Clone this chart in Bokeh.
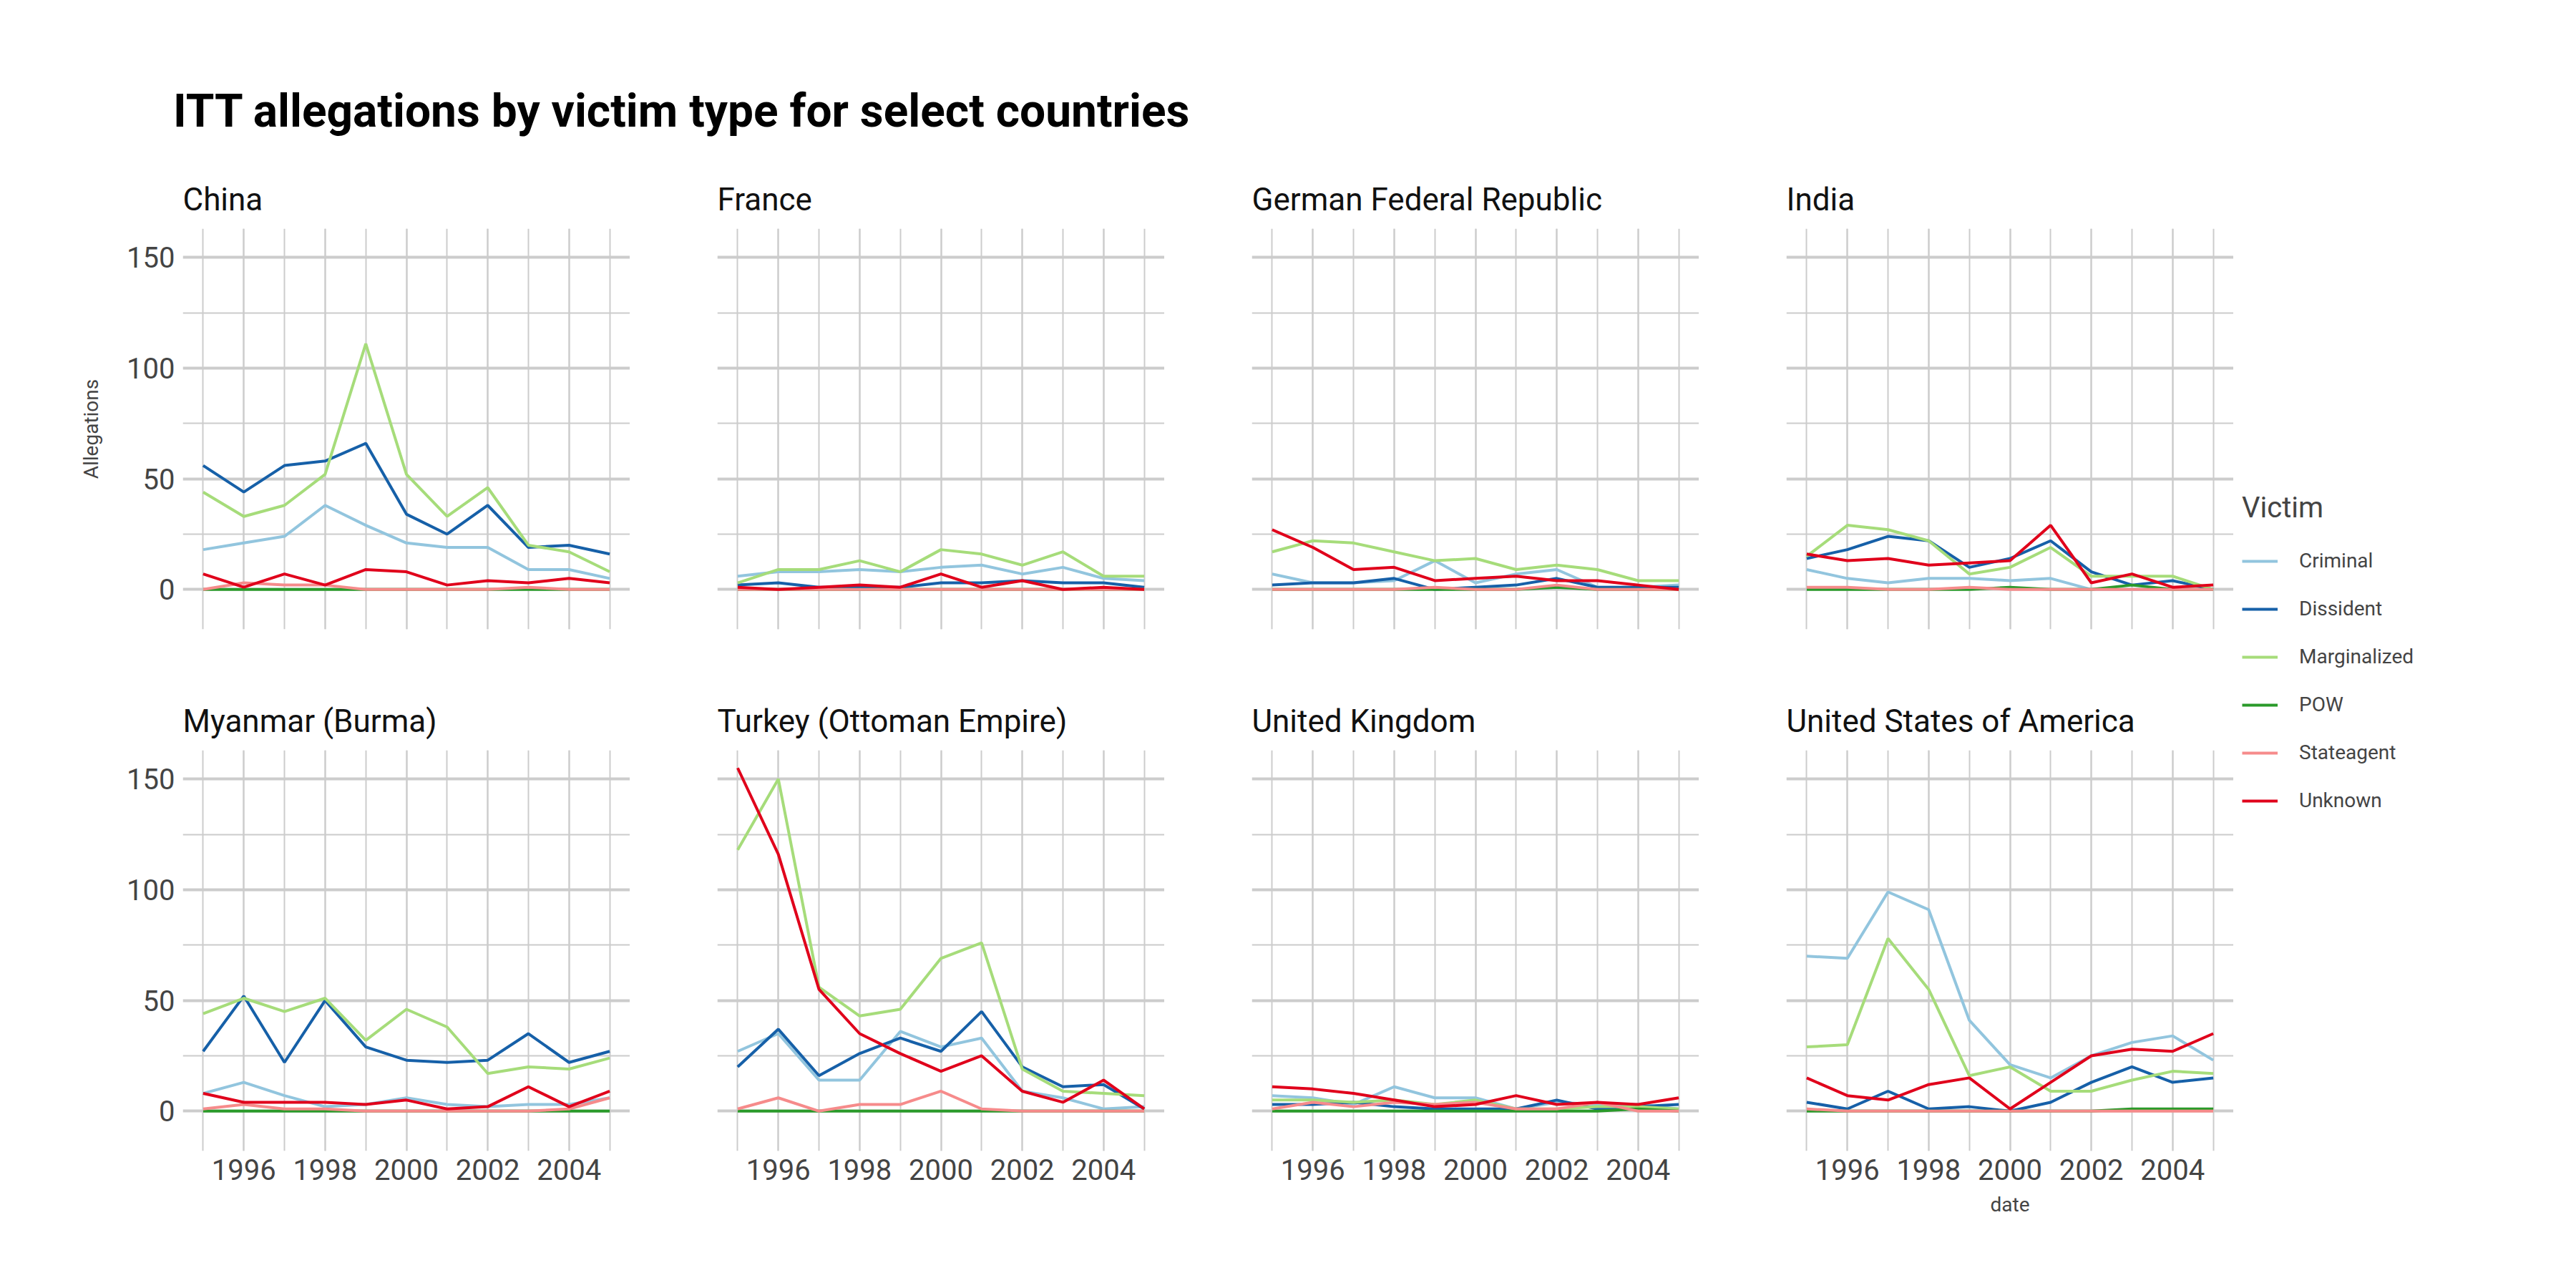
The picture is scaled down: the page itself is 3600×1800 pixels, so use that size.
import numpy as np
from bokeh.plotting import figure
from bokeh.layouts import column, row
from bokeh.models import Div, Legend, LegendItem, Range1d, FixedTicker
from bokeh.embed import file_html
from bokeh.resources import INLINE

# Data
years = list(range(1995, 2006))
victims = ["Criminal", "Dissident", "Marginalized", "POW", "Stateagent", "Unknown"]
colors = ["#92c5de", "#1660a8", "#a6dc7a", "#2a9a2a", "#f68b8b", "#e0001b"]
countries = ["China", "France", "German Federal Republic", "India",
             "Myanmar (Burma)", "Turkey (Ottoman Empire)", "United Kingdom", "United States of America"]

china = {
    "Criminal":     [18, 21, 24, 38, 29, 21, 19, 19, 9, 9, 5],
    "Dissident":    [56, 44, 56, 58, 66, 34, 25, 38, 19, 20, 16],
    "Marginalized": [44, 33, 38, 52, 111, 52, 33, 46, 20, 17, 8],
    "POW":          [0, 0, 0, 0, 0, 0, 0, 0, 0, 0, 0],
    "Stateagent":   [0, 3, 2, 2, 0, 0, 0, 0, 1, 0, 0],
    "Unknown":      [7, 1, 7, 2, 9, 8, 2, 4, 3, 5, 3],
}
france = {
    "Criminal":     [6, 8, 8, 9, 8, 10, 11, 7, 10, 5, 4],
    "Dissident":    [2, 3, 1, 1, 1, 3, 3, 4, 3, 3, 1],
    "Marginalized": [3, 9, 9, 13, 8, 18, 16, 11, 17, 6, 6],
    "POW":          [0, 0, 0, 0, 0, 0, 0, 0, 0, 0, 0],
    "Stateagent":   [0, 0, 0, 0, 0, 0, 0, 0, 0, 0, 0],
    "Unknown":      [1, 0, 1, 2, 1, 7, 1, 4, 0, 1, 0],
}
germany = {
    "Criminal":     [7, 3, 3, 4, 13, 3, 7, 9, 1, 1, 2],
    "Dissident":    [2, 3, 3, 5, 0, 1, 2, 5, 1, 1, 1],
    "Marginalized": [17, 22, 21, 17, 13, 14, 9, 11, 9, 4, 4],
    "POW":          [0, 0, 0, 0, 0, 0, 0, 1, 0, 0, 0],
    "Stateagent":   [0, 0, 0, 0, 1, 0, 0, 2, 0, 0, 0],
    "Unknown":      [27, 19, 9, 10, 4, 5, 6, 4, 4, 2, 0],
}
india = {
    "Criminal":     [9, 5, 3, 5, 5, 4, 5, 0, 0, 0, 0],
    "Dissident":    [14, 18, 24, 22, 10, 14, 22, 8, 2, 4, 0],
    "Marginalized": [15, 29, 27, 22, 7, 10, 19, 6, 6, 6, 0],
    "POW":          [0, 0, 0, 0, 0, 1, 0, 0, 2, 0, 0],
    "Stateagent":   [1, 1, 0, 0, 1, 0, 0, 0, 0, 0, 0],
    "Unknown":      [16, 13, 14, 11, 12, 13, 29, 3, 7, 1, 2],
}
myanmar = {
    "Criminal":     [8, 13, 7, 2, 3, 6, 3, 2, 3, 3, 6],
    "Dissident":    [27, 52, 22, 50, 29, 23, 22, 23, 35, 22, 27],
    "Marginalized": [44, 51, 45, 51, 32, 46, 38, 17, 20, 19, 24],
    "POW":          [0, 0, 0, 0, 0, 0, 0, 0, 0, 0, 0],
    "Stateagent":   [1, 3, 1, 1, 0, 0, 0, 0, 0, 1, 6],
    "Unknown":      [8, 4, 4, 4, 3, 5, 1, 2, 11, 2, 9],
}
turkey = {
    "Criminal":     [27, 35, 14, 14, 36, 29, 33, 9, 6, 1, 2],
    "Dissident":    [20, 37, 16, 26, 33, 27, 45, 20, 11, 12, 1],
    "Marginalized": [118, 150, 56, 43, 46, 69, 76, 19, 9, 8, 7],
    "POW":          [0, 0, 0, 0, 0, 0, 0, 0, 0, 0, 0],
    "Stateagent":   [1, 6, 0, 3, 3, 9, 1, 0, 0, 0, 0],
    "Unknown":      [155, 116, 55, 35, 26, 18, 25, 9, 4, 14, 1],
}
uk = {
    "Criminal":     [7, 6, 3, 11, 6, 6, 1, 4, 3, 3, 1],
    "Dissident":    [3, 3, 4, 2, 1, 1, 1, 5, 1, 2, 3],
    "Marginalized": [5, 5, 4, 5, 3, 5, 1, 1, 2, 2, 1],
    "POW":          [0, 0, 0, 0, 0, 0, 0, 0, 0, 1, 0],
    "Stateagent":   [1, 4, 2, 4, 3, 4, 1, 1, 4, 0, 0],
    "Unknown":      [11, 10, 8, 5, 2, 3, 7, 3, 4, 3, 6],
}
usa = {
    "Criminal":     [70, 69, 99, 91, 41, 21, 15, 25, 31, 34, 23],
    "Dissident":    [4, 1, 9, 1, 2, 0, 4, 13, 20, 13, 15],
    "Marginalized": [29, 30, 78, 55, 16, 20, 9, 9, 14, 18, 17],
    "POW":          [0, 0, 0, 0, 0, 0, 0, 0, 1, 1, 1],
    "Stateagent":   [1, 0, 0, 0, 0, 0, 0, 0, 0, 0, 0],
    "Unknown":      [15, 7, 5, 12, 15, 1, 13, 25, 28, 27, 35],
}
panels = [china, france, germany, india, myanmar, turkey, uk, usa]

FONT = "Roboto"
FW, FH = 625, 560


def make_panel(i):
    first_col = i % 4 == 0
    bottom = i >= 4
    p = figure(frame_width=FW, frame_height=FH, output_backend="svg", toolbar_location=None,
               x_range=Range1d(1994.5, 2005.5), y_range=Range1d(-18, 163),
               min_border_left=255 if first_col else 122, min_border_right=0,
               min_border_top=10, min_border_bottom=70 if bottom else 85,
               title=countries[i])
    p.title.text_font = FONT
    p.title.text_font_size = "44px"
    p.title.text_font_style = "normal"
    p.title.text_color = "#111111"
    p.title.offset = 0
    p.title.standoff = 30
    p.outline_line_color = None
    p.background_fill_color = "white"
    d = panels[i]
    for v, c in zip(victims, colors):
        p.line(years, d[v], line_color=c, line_width=4)
    p.xaxis.ticker = FixedTicker(ticks=[1996, 1998, 2000, 2002, 2004],
                                 minor_ticks=list(range(1995, 2006)))
    p.yaxis.ticker = FixedTicker(ticks=[0, 50, 100, 150], minor_ticks=[25, 75, 125])
    for ax in [p.xaxis[0], p.yaxis[0]]:
        ax.axis_line_color = None
        ax.major_tick_line_color = None
        ax.minor_tick_line_color = None
        ax.major_label_text_font = FONT
        ax.major_label_text_font_size = "40px"
        ax.major_label_text_color = "#444444"
    p.xgrid.grid_line_color = "#cccccc"
    p.xgrid.minor_grid_line_color = "#cccccc"
    p.xgrid.grid_line_width = 2
    p.xgrid.minor_grid_line_width = 2
    p.ygrid.grid_line_color = "#cccccc"
    p.ygrid.minor_grid_line_color = "#cccccc"
    p.ygrid.grid_line_width = 4
    p.ygrid.minor_grid_line_width = 2
    if not bottom:
        p.xaxis.visible = False
    if not first_col:
        p.yaxis.visible = False
    if i == 0:
        p.yaxis.axis_label = "Allegations"
        p.yaxis.axis_label_text_font = FONT
        p.yaxis.axis_label_text_font_size = "28px"
        p.yaxis.axis_label_text_font_style = "normal"
        p.yaxis.axis_label_standoff = 30
    if i == 7:
        p.xaxis.axis_label = "date"
        p.xaxis.axis_label_text_font = FONT
        p.xaxis.axis_label_text_font_size = "28px"
        p.xaxis.axis_label_text_font_style = "normal"
        p.xaxis.axis_label_text_align = "right"
        p.xaxis.axis_label_standoff = 15
    return p


figs = [make_panel(i) for i in range(8)]

# legend panel: lines drawn outside the visible range, only their legend glyphs show
lg = figure(width=380, height=1400, output_backend="svg", toolbar_location=None,
            x_range=Range1d(0, 1), y_range=Range1d(-1000, -999), min_border=0)
lg.axis.visible = False
lg.grid.visible = False
lg.outline_line_color = None
items = []
for v, c in zip(victims, colors):
    r = lg.line(years, usa[v], line_color=c, line_width=4)
    items.append(LegendItem(label=v, renderers=[r]))
legend = Legend(items=items, title="Victim", location=(12, 500),
                label_text_font=FONT, label_text_font_size="28px",
                title_text_font=FONT, title_text_font_size="40px", title_text_font_style="normal",
                title_standoff=34, spacing=34, glyph_width=50, label_standoff=30,
                border_line_color=None, background_fill_alpha=0)
lg.add_layout(legend, "center")

title = Div(text="ITT allegations by victim type for select countries",
            styles={"font-family": FONT, "font-size": "64px", "font-weight": "bold",
                    "color": "#000000", "margin-left": "242px", "margin-top": "110px"},
            width=2500, height=120)

grid = column(row(*figs[:4]), row(*figs[4:]))
p = column(title, row(grid, lg))

open("out.html", "w").write(file_html(p, INLINE))
